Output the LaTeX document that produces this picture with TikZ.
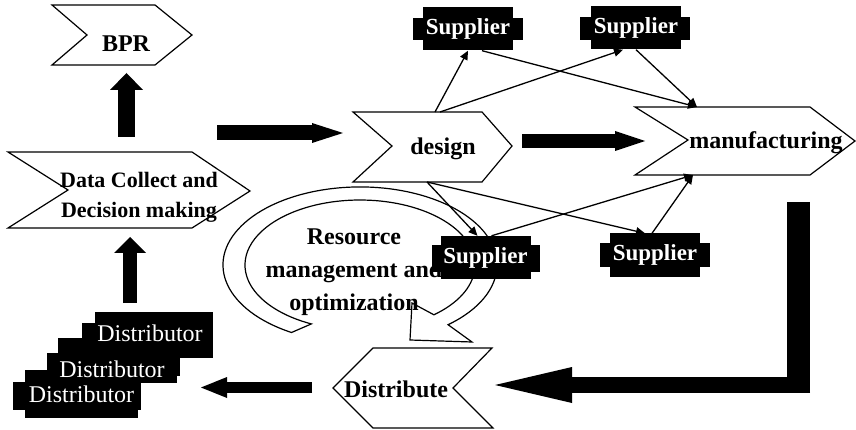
\documentclass[tikz,border=0pt]{standalone}
\usepackage{fontspec}
\setmainfont{Liberation Serif}
\usetikzlibrary{arrows.meta}
\tikzset{
  chev/.style={draw=black, fill=white, line width=1.2pt, line join=miter},
  lbl/.style={font=\fontsize{24}{28}\selectfont\bfseries, inner sep=0pt},
  supbox/.style={fill=black, text=white, font=\fontsize{23}{26}\selectfont\bfseries,
                 minimum width=90pt, minimum height=43pt, inner sep=0pt},
  distbox/.style={fill=black, text=white, font=\fontsize{24}{28}\selectfont,
                 minimum width=116pt, minimum height=45pt, inner sep=0pt},
  thinarr/.style={line width=1.3pt, -{Triangle[length=9pt,width=8pt]}},
  band/.style={draw=black, fill=white, line width=1.2pt, line join=miter},
}
\begin{document}
\begin{tikzpicture}[x=1pt,y=1pt,yscale=-1]
\useasboundingbox (0,0) rectangle (856,430);
\fill[white] (0,0) rectangle (856,430);

% circular band arrow
\draw[band] (291.5,332.5) arc[start angle=120, end angle=410, x radius=137, y radius=78]
  -- (472,342) -- (410,340) -- (412,303) -- (433.9,314.8)
  arc[start angle=410, end angle=115, x radius=115, y radius=65] -- cycle;
\node[lbl, align=center, font=\fontsize{24}{33}\selectfont\bfseries] (res) at (354,272)
  {Resource\\management and\\optimization};

% chevrons
\draw[chev] (52,5) -- (155,5) -- (192,35) -- (155,65) -- (52,65) -- (87,35) -- cycle;
\node[lbl] (bpr) at (126,44) {BPR};
\draw[chev] (8,152) -- (192,152) -- (250,191) -- (192,228) -- (8,228) -- (68,190) -- cycle;
\node[lbl, align=center, font=\fontsize{22}{30}\selectfont\bfseries] (data) at (139,197)
  {Data Collect and\\Decision making};
\draw[chev] (353,112) -- (482,112) -- (512,146) -- (482,182) -- (353,182) -- (392,146) -- cycle;
\node[lbl] (design) at (443,149) {design};
\draw[chev] (635,107) -- (810,107) -- (855,141) -- (810,175) -- (635,175) -- (688,140) -- cycle;
\node[lbl] (mfg) at (766,143) {manufacturing};
\draw[chev] (373,348) -- (492,348) -- (453,388) -- (493,428) -- (373,428) -- (333,388) -- cycle;
\node[lbl] (dist) at (396,389) {Distribute};

% suppliers
\fill (413,18) rectangle (523,40);
\node[supbox] (s1) at (468,29) {Supplier};
\fill (580,17) rectangle (690,40);
\node[supbox] (s2) at (636,28) {Supplier};
\fill (432,245) rectangle (540,272);
\node[supbox] (s3) at (485.5,257.5) {Supplier};
\fill (600,243) rectangle (710,267);
\node[supbox] (s4) at (655,255) {Supplier};

% attachment points on chevrons
\coordinate (desT1) at (435,112);
\coordinate (desT2) at (440,112);
\coordinate (desB) at (427,182);
\coordinate (mfgT) at (697,107);
\coordinate (mfgB) at (693,175);

% thin connectors
\draw[thinarr] (desT1) -- (s1.south);
\draw[thinarr] (desT2) -- ([xshift=-13pt]s2.south);
\draw[thinarr] ([xshift=14pt]s1.south) -- (mfgT);
\draw[thinarr] (s2.south) -- (mfgT);
\draw[thinarr] (desB) -- ([xshift=-8pt]s3.north);
\draw[thinarr] (desB) -- ([xshift=-10pt]s4.north);
\draw[thinarr] ([xshift=6pt]s3.north) -- (mfgB);
\draw[thinarr] ([xshift=-3pt]s4.north) -- (mfgB);

% big arrows
\coordinate (aS) at (217,133);
\coordinate (aE) at (343,133);
\draw[line width=15pt, -{Triangle[length=31pt,width=20pt,line width=0pt]}] (aS) -- (aE);
\coordinate (bS) at (522,141);
\coordinate (bE) at (645,141);
\draw[line width=14pt, -{Triangle[length=30pt,width=20pt,line width=0pt]}] (bS) -- (bE);
\coordinate (uS) at (126.5,137);
\coordinate (uE) at (126.5,73);
\draw[line width=17pt, -{Triangle[length=17pt,width=33pt,line width=0pt]}] (uS) -- (uE);
\coordinate (vS) at (130,303);
\coordinate (vE) at (130,237);
\draw[line width=14pt, -{Triangle[length=16pt,width=32pt,line width=0pt]}] (vS) -- (vE);
\coordinate (lTop) at (798.5,202);
\coordinate (lBot) at (798.5,393);
\coordinate (lCorner) at (810,385);
\coordinate (lEnd) at (495,385);
\draw[line width=23pt] (lTop) -- (lBot);
\draw[line width=16pt, -{Triangle[length=77pt,width=36pt,line width=0pt]}] (lCorner) -- (lEnd);
\coordinate (dS) at (312,387.5);
\coordinate (dE) at (201,387.5);
\draw[line width=11pt, -{Triangle[length=26pt,width=21pt,line width=0pt]}] (dS) -- (dE);

% distributors
\fill (13,382) rectangle (141,410);
\node[distbox, minimum width=113pt, minimum height=48pt] (d3) at (81.5,394) {Distributor};
\fill (47,353) rectangle (180,376);
\node[distbox, minimum width=119pt] (d2) at (117.5,360.5) {};
\node[text=white, font=\fontsize{24}{28}\selectfont, inner sep=0pt] (d2t) at (112,369) {Distributor};
\fill (82,323) rectangle (213,350);
\node[distbox, minimum width=118pt, minimum height=46pt] (d1) at (154,335) {};
\node[text=white, font=\fontsize{24}{28}\selectfont, inner sep=0pt] (d1t) at (150,333) {Distributor};
\end{tikzpicture}
\end{document}
